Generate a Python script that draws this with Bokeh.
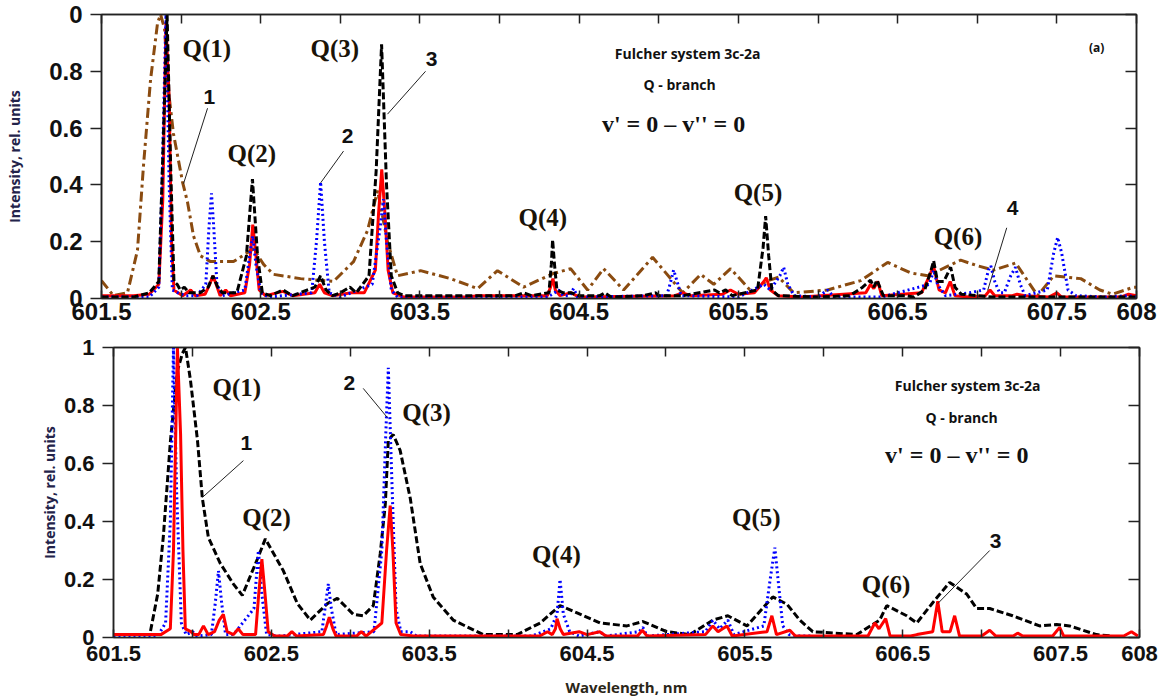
from bokeh.plotting import figure
from bokeh.models import Range1d, LinearAxis, FixedTicker
from bokeh.core.properties import value
from bokeh.embed import file_html
from bokeh.resources import INLINE

# ---------------- data (wavelength nm, relative intensity) ----------------
X_LABELED_TICKS = [601.5, 602.5, 603.5, 604.5, 605.5, 606.5, 607.5, 608.0]
X_LABELS = ["601.5", "602.5", "603.5", "604.5", "605.5", "606.5", "607.5", "608"]
X_OTHER_TICKS = [602.0, 603.0, 604.0, 605.0, 606.0, 607.0]
X_ALL_TICKS = [601.5, 602.0, 602.5, 603.0, 603.5, 604.0, 604.5, 605.0, 605.5,
               606.0, 606.5, 607.0, 607.5, 608.0]
Y_TICKS = [0.0, 0.2, 0.4, 0.6, 0.8, 1.0]
Y_LABELS_TOP = ["0", "0.2", "0.4", "0.6", "0.8", "0"]
Y_LABELS_BOT = ["0", "0.2", "0.4", "0.6", "0.8", "1"]

# top panel, curve 4 (dash-dot brown)
TOP_BROWN = [
    (601.50, 0.063), (601.575, 0.01), (601.663, 0.02), (601.726, 0.17),
    (601.764, 0.47), (601.808, 0.77), (601.852, 0.97), (601.871, 1.0),
    (601.896, 0.95), (601.921, 0.73), (601.952, 0.58), (602.009, 0.41),
    (602.040, 0.34), (602.078, 0.22), (602.122, 0.15), (602.185, 0.13),
    (602.329, 0.13), (602.455, 0.175), (602.518, 0.12), (602.580, 0.085),
    (602.750, 0.07), (602.957, 0.06), (603.083, 0.13), (603.171, 0.24),
    (603.234, 0.38), (603.296, 0.2), (603.359, 0.08), (603.504, 0.098),
    (603.692, 0.07), (603.862, 0.035), (603.987, 0.098), (604.151, 0.04),
    (604.333, 0.087), (604.446, 0.105), (604.553, 0.03), (604.653, 0.105),
    (604.779, 0.03), (604.961, 0.145), (605.150, 0.02), (605.263, 0.085),
    (605.345, 0.05), (605.451, 0.105), (605.589, 0.02), (605.671, 0.06),
    (605.753, 0.075), (605.847, 0.02), (606.060, 0.03), (606.268, 0.063),
    (606.437, 0.127), (606.582, 0.09), (606.689, 0.08), (606.896, 0.135),
    (607.003, 0.115), (607.103, 0.10), (607.241, 0.125), (607.379, 0.01),
    (607.480, 0.08), (607.650, 0.07), (607.770, 0.03), (607.850, 0.015),
    (607.982, 0.04), (608.0, 0.04),
]

# top panel, curve 3 (dashed black)
TOP_BLACK = [
    (601.50, 0.005), (601.70, 0.005), (601.80, 0.02), (601.86, 0.06),
    (601.885, 0.5), (601.912, 1.0), (601.935, 0.45), (601.955, 0.06),
    (601.975, 0.05), (601.995, 0.03), (602.02, 0.04), (602.05, 0.02),
    (602.08, 0.02), (602.12, 0.02), (602.17, 0.04), (602.20, 0.08),
    (602.23, 0.04), (602.26, 0.02), (602.30, 0.02), (602.35, 0.02),
    (602.41, 0.15), (602.448, 0.42), (602.48, 0.15), (602.51, 0.02),
    (602.56, 0.01), (602.64, 0.03), (602.70, 0.01), (602.84, 0.04),
    (602.876, 0.08), (602.91, 0.03), (602.95, 0.01), (603.00, 0.02),
    (603.06, 0.04), (603.10, 0.02), (603.18, 0.08), (603.225, 0.45),
    (603.259, 0.895), (603.29, 0.4), (603.32, 0.08), (603.36, 0.02),
    (603.40, 0.01), (604.00, 0.01), (604.10, 0.01), (604.15, 0.02),
    (604.20, 0.01), (604.31, 0.02), (604.325, 0.12), (604.333, 0.207),
    (604.345, 0.12), (604.36, 0.03), (604.40, 0.02), (604.45, 0.02),
    (604.50, 0.01), (604.63, 0.01), (604.66, 0.02), (604.70, 0.005),
    (604.90, 0.01), (604.98, 0.02), (605.00, 0.01), (605.15, 0.01),
    (605.35, 0.03), (605.38, 0.02), (605.42, 0.03), (605.46, 0.01),
    (605.62, 0.03), (605.655, 0.18), (605.671, 0.29), (605.69, 0.15),
    (605.71, 0.03), (605.75, 0.01), (606.00, 0.005), (606.20, 0.01),
    (606.28, 0.04), (606.33, 0.065), (606.35, 0.04), (606.37, 0.065),
    (606.41, 0.01), (606.55, 0.01), (606.60, 0.005), (606.67, 0.03),
    (606.71, 0.10), (606.726, 0.133), (606.75, 0.06), (606.79, 0.06),
    (606.833, 0.11), (606.86, 0.04), (606.90, 0.015), (607.00, 0.01),
    (607.10, 0.005), (608.0, 0.005),
]

# top panel, curve 2 (dotted blue)
TOP_BLUE = [
    (601.50, 0.005), (601.80, 0.005), (601.86, 0.04), (601.88, 0.4),
    (601.905, 1.0), (601.925, 0.4), (601.945, 0.03), (601.98, 0.02),
    (602.03, 0.01), (602.10, 0.01), (602.155, 0.05), (602.175, 0.25),
    (602.191, 0.37), (602.205, 0.25), (602.225, 0.05), (602.26, 0.01),
    (602.40, 0.03), (602.43, 0.15), (602.45, 0.22), (602.47, 0.12),
    (602.50, 0.02), (602.55, 0.005), (602.82, 0.02), (602.85, 0.2),
    (602.876, 0.41), (602.90, 0.2), (602.93, 0.02), (603.00, 0.005),
    (603.20, 0.05), (603.25, 0.25), (603.271, 0.35), (603.29, 0.2),
    (603.32, 0.03), (603.36, 0.005), (604.30, 0.005), (604.345, 0.02),
    (604.371, 0.03), (604.40, 0.01), (604.44, 0.01), (604.465, 0.035),
    (604.49, 0.005), (605.05, 0.01), (605.075, 0.06), (605.093, 0.10),
    (605.115, 0.06), (605.14, 0.01), (605.50, 0.005), (605.66, 0.05),
    (605.70, 0.03), (605.76, 0.08), (605.784, 0.11), (605.81, 0.05),
    (605.85, 0.01), (606.00, 0.005), (606.06, 0.03), (606.10, 0.005),
    (606.40, 0.005), (606.70, 0.05), (606.726, 0.10), (606.75, 0.05),
    (606.80, 0.01), (606.95, 0.02), (607.04, 0.03), (607.07, 0.10),
    (607.085, 0.115), (607.11, 0.06), (607.14, 0.02), (607.17, 0.02),
    (607.21, 0.08), (607.24, 0.11), (607.27, 0.05), (607.30, 0.01),
    (607.44, 0.03), (607.48, 0.16), (607.505, 0.215), (607.53, 0.16),
    (607.57, 0.03), (607.62, 0.01), (607.80, 0.005), (607.95, 0.01),
    (608.0, 0.005),
]

# top panel, curve 1 (solid red)
TOP_RED = [
    (601.50, 0.01), (601.70, 0.01), (601.80, 0.015), (601.86, 0.05),
    (601.885, 0.35), (601.905, 0.97), (601.925, 0.7), (601.94, 0.2),
    (601.955, 0.03), (601.98, 0.02), (602.01, 0.01), (602.06, 0.03),
    (602.09, 0.01), (602.15, 0.015), (602.18, 0.05), (602.20, 0.08),
    (602.22, 0.05), (602.245, 0.01), (602.28, 0.03), (602.31, 0.01),
    (602.40, 0.02), (602.43, 0.12), (602.45, 0.26), (602.47, 0.15),
    (602.49, 0.03), (602.53, 0.01), (602.64, 0.025), (602.70, 0.01),
    (602.84, 0.02), (602.87, 0.05), (602.90, 0.02), (602.95, 0.01),
    (603.07, 0.02), (603.15, 0.02), (603.22, 0.10), (603.24, 0.30),
    (603.26, 0.455), (603.28, 0.30), (603.30, 0.10), (603.33, 0.02),
    (603.40, 0.005), (603.80, 0.005), (603.86, 0.01), (604.30, 0.01),
    (604.32, 0.04), (604.335, 0.07), (604.35, 0.03), (604.38, 0.01),
    (604.45, 0.02), (604.50, 0.005), (605.10, 0.01), (605.15, 0.02),
    (605.20, 0.01), (605.40, 0.015), (605.45, 0.03), (605.50, 0.015),
    (605.60, 0.02), (605.66, 0.06), (605.675, 0.073), (605.70, 0.03),
    (605.75, 0.01), (605.90, 0.005), (606.30, 0.02), (606.33, 0.05),
    (606.35, 0.035), (606.375, 0.06), (606.40, 0.01), (606.65, 0.02),
    (606.70, 0.08), (606.725, 0.115), (606.76, 0.03), (606.80, 0.02),
    (606.83, 0.06), (606.86, 0.01), (606.95, 0.005), (607.05, 0.01),
    (607.08, 0.03), (607.11, 0.01), (607.22, 0.01), (607.25, 0.015),
    (607.30, 0.01), (607.45, 0.005), (607.50, 0.02), (607.53, 0.005),
    (607.90, 0.005), (607.95, 0.015), (608.0, 0.01),
]

# bottom panel, curve 1 (dashed black)
BOT_BLACK = [
    (601.50, 0.01), (601.73, 0.01), (601.78, 0.15), (601.816, 0.35),
    (601.861, 0.68), (601.905, 0.92), (601.937, 0.98), (601.956, 1.0),
    (601.987, 0.89), (602.032, 0.68), (602.063, 0.48), (602.101, 0.345),
    (602.177, 0.255), (602.259, 0.185), (602.316, 0.145), (602.411, 0.27),
    (602.462, 0.34), (602.576, 0.23), (602.665, 0.117), (602.747, 0.06),
    (602.855, 0.117), (602.918, 0.135), (603.019, 0.08), (603.082, 0.075),
    (603.146, 0.11), (603.190, 0.29), (603.222, 0.46), (603.241, 0.68),
    (603.272, 0.70), (603.316, 0.645), (603.380, 0.48), (603.443, 0.255),
    (603.525, 0.14), (603.652, 0.06), (603.842, 0.01), (604.057, 0.01),
    (604.203, 0.05), (604.329, 0.11), (604.437, 0.085), (604.582, 0.05),
    (604.753, 0.04), (604.854, 0.055), (605.006, 0.02), (605.152, 0.01),
    (605.297, 0.06), (605.392, 0.075), (605.513, 0.04), (605.677, 0.14),
    (605.766, 0.115), (605.848, 0.06), (605.930, 0.02), (606.209, 0.01),
    (606.354, 0.06), (606.399, 0.11), (606.525, 0.075), (606.589, 0.05),
    (606.690, 0.12), (606.797, 0.19), (606.905, 0.15), (606.968, 0.10),
    (607.051, 0.10), (607.196, 0.075), (607.367, 0.04), (607.475, 0.045),
    (607.557, 0.04), (607.728, 0.01), (607.829, 0.005),
]

# bottom panel, curve 2 (dotted blue)
BOT_BLUE = [
    (601.50, 0.005), (601.78, 0.005), (601.83, 0.05), (601.86, 0.4),
    (601.88, 1.0), (601.90, 0.5), (601.93, 0.05), (601.96, 0.01),
    (602.00, 0.02), (602.03, 0.005), (602.12, 0.01), (602.145, 0.12),
    (602.165, 0.23), (602.185, 0.12), (602.21, 0.01), (602.26, 0.01),
    (602.39, 0.1), (602.418, 0.3), (602.44, 0.15), (602.47, 0.01),
    (602.55, 0.005), (602.82, 0.02), (602.84, 0.1), (602.861, 0.185),
    (602.88, 0.1), (602.91, 0.01), (603.15, 0.02), (603.20, 0.3),
    (603.225, 0.7), (603.241, 0.93), (603.26, 0.6), (603.29, 0.1),
    (603.32, 0.02), (603.38, 0.02), (603.42, 0.005), (604.15, 0.005),
    (604.27, 0.03), (604.31, 0.08), (604.329, 0.2), (604.35, 0.08),
    (604.39, 0.02), (604.45, 0.005), (604.58, 0.02), (604.62, 0.005),
    (604.83, 0.02), (604.854, 0.035), (604.88, 0.005), (605.25, 0.02),
    (605.297, 0.06), (605.34, 0.03), (605.392, 0.06), (605.43, 0.01),
    (605.62, 0.04), (605.66, 0.2), (605.69, 0.31), (605.71, 0.2),
    (605.74, 0.04), (605.78, 0.01), (605.848, 0.005), (605.93, 0.005),
]

# bottom panel, curve 3 (solid red)
BOT_RED = [
    (601.50, 0.01), (601.80, 0.01), (601.86, 0.03), (601.88, 0.3),
    (601.905, 1.0), (601.925, 0.7), (601.94, 0.3), (601.955, 0.03),
    (601.99, 0.02), (602.01, 0.01), (602.04, 0.01), (602.07, 0.04),
    (602.10, 0.01), (602.14, 0.02), (602.17, 0.06), (602.196, 0.08),
    (602.22, 0.02), (602.26, 0.01), (602.29, 0.03), (602.32, 0.01),
    (602.40, 0.01), (602.42, 0.15), (602.44, 0.27), (602.46, 0.15),
    (602.48, 0.02), (602.52, 0.005), (602.60, 0.005), (602.63, 0.02),
    (602.66, 0.005), (602.83, 0.01), (602.85, 0.04), (602.867, 0.07),
    (602.89, 0.03), (602.91, 0.005), (603.04, 0.005), (603.07, 0.02),
    (603.10, 0.005), (603.20, 0.05), (603.23, 0.3), (603.253, 0.455),
    (603.27, 0.3), (603.29, 0.05), (603.32, 0.01), (603.40, 0.005),
    (604.20, 0.005), (604.25, 0.02), (604.28, 0.01), (604.30, 0.03),
    (604.31, 0.065), (604.33, 0.03), (604.35, 0.01), (604.45, 0.02),
    (604.50, 0.01), (604.58, 0.02), (604.62, 0.005), (604.82, 0.005),
    (604.85, 0.025), (604.88, 0.005), (605.25, 0.01), (605.297, 0.04),
    (605.33, 0.02), (605.386, 0.04), (605.42, 0.005), (605.64, 0.02),
    (605.671, 0.075), (605.70, 0.01), (605.785, 0.025), (605.82, 0.005),
    (606.28, 0.005), (606.323, 0.05), (606.35, 0.03), (606.392, 0.065),
    (606.42, 0.005), (606.55, 0.005), (606.59, 0.01), (606.69, 0.02),
    (606.722, 0.125), (606.75, 0.02), (606.80, 0.02), (606.829, 0.075),
    (606.86, 0.005), (607.00, 0.005), (607.051, 0.025), (607.09, 0.005),
    (607.20, 0.005), (607.228, 0.015), (607.26, 0.005), (607.45, 0.005),
    (607.494, 0.035), (607.52, 0.005), (607.90, 0.005), (607.949, 0.02),
    (607.99, 0.005),
]

# annotations
TOP_Q_TEXT = ["Q(1)", "Q(2)", "Q(3)", "Q(4)", "Q(5)", "Q(6)"]
TOP_Q_X = [602.009, 602.291, 602.813, 604.119, 605.470, 606.726]
TOP_Q_Y = [0.88, 0.509, 0.88, 0.284, 0.372, 0.218]
BOT_Q_TEXT = ["Q(1)", "Q(2)", "Q(3)", "Q(4)", "Q(5)", "Q(6)"]
BOT_Q_X = [602.127, 602.316, 603.329, 604.152, 605.418, 606.241]
BOT_Q_Y = [0.862, 0.414, 0.776, 0.286, 0.414, 0.183]

TOP_NUM_TEXT = ["1", "2", "3", "4"]
TOP_NUM_X = [602.178, 603.045, 603.573, 607.222]
TOP_NUM_Y = [0.709, 0.572, 0.842, 0.319]
TOP_LEAD = [(602.166, 0.670, 602.015, 0.404), (603.020, 0.519, 602.876, 0.407),
            (603.535, 0.800, 603.296, 0.649), (607.185, 0.249, 607.065, 0.028)]
BOT_NUM_TEXT = ["1", "2", "3"]
BOT_NUM_X = [602.342, 602.994, 607.089]
BOT_NUM_Y = [0.672, 0.879, 0.334]
BOT_LEAD = [(602.323, 0.610, 602.063, 0.483), (603.082, 0.859, 603.234, 0.759),
            (607.051, 0.300, 606.722, 0.117)]

INFO_TEXT = ["Fulcher system 3c-2a", "Q - branch", "v' = 0 \u2013 v'' = 0"]
TOP_INFO_X = [605.181, 605.131, 605.093]
TOP_INFO_Y = [0.863, 0.754, 0.614]
BOT_INFO_X = [606.911, 606.873, 606.842]
BOT_INFO_Y = [0.869, 0.759, 0.628]

TICK_FONT = "Liberation Sans"
SERIF = "Liberation Serif"
SANS = "Open Sans"
BROWN = "#8a4b10"
AX = "#222222"


def style_ticks(ax, tin, tout):
    ax.major_tick_in = tin
    ax.major_tick_out = tout
    ax.minor_tick_in = tin
    ax.minor_tick_out = tout
    ax.axis_line_color = AX
    ax.axis_line_width = 1.5
    ax.major_tick_line_color = AX
    ax.major_tick_line_width = 1.5
    ax.minor_tick_line_color = AX
    ax.minor_tick_line_width = 1.5


def make_panel(height, left, right, top, bottom, tick_size, x_standoff,
               ylabel_standoff, xlabel, y_labels):
    p = figure(width=1174, height=height, x_range=Range1d(601.5, 608),
               y_range=Range1d(0, 1), output_backend="svg",
               toolbar_location=None, min_border_left=left,
               min_border_right=right, min_border_top=top,
               min_border_bottom=bottom)
    p.xgrid.visible = False
    p.ygrid.visible = False
    p.outline_line_color = AX
    p.outline_line_width = 1.5
    p.background_fill_color = "white"
    p.border_fill_color = "white"

    xa = p.xaxis[0]
    xa.ticker = FixedTicker(ticks=X_LABELED_TICKS, minor_ticks=X_OTHER_TICKS)
    xa.major_label_overrides = {t: l for t, l in zip(X_LABELED_TICKS, X_LABELS)}
    style_ticks(xa, 8, 0)
    xa.major_label_standoff = x_standoff
    xa.major_label_text_font = TICK_FONT
    xa.major_label_text_font_style = "bold"
    xa.major_label_text_font_size = tick_size
    xa.major_label_text_color = "#111111"
    if xlabel:
        xa.axis_label = xlabel
        xa.axis_label_text_font = SANS
        xa.axis_label_text_font_style = "bold"
        xa.axis_label_text_font_size = "15px"
        xa.axis_label_text_color = "#2b2618"
        xa.axis_label_standoff = 13

    ya = p.yaxis[0]
    ya.ticker = FixedTicker(ticks=Y_TICKS, minor_ticks=[])
    ya.major_label_overrides = {t: l for t, l in zip(Y_TICKS, y_labels)}
    style_ticks(ya, 0, 11)
    ya.major_label_standoff = 8
    ya.major_label_text_font = TICK_FONT
    ya.major_label_text_font_style = "bold"
    ya.major_label_text_font_size = tick_size
    ya.major_label_text_color = "#111111"
    ya.axis_label = "Intensity, rel. units"
    ya.axis_label_text_font = SANS
    ya.axis_label_text_font_style = "bold"
    ya.axis_label_text_font_size = "14px"
    ya.axis_label_text_color = "#23234a"
    ya.axis_label_standoff = ylabel_standoff

    # label-free tick axes on top and right (ticks only, pointing inward)
    ax_top = LinearAxis(ticker=FixedTicker(ticks=[], minor_ticks=X_ALL_TICKS))
    style_ticks(ax_top, 9, 0)
    p.add_layout(ax_top, "above")
    ax_right = LinearAxis(ticker=FixedTicker(ticks=[], minor_ticks=Y_TICKS))
    style_ticks(ax_right, 11, 0)
    p.add_layout(ax_right, "right")
    return p


def xy(series):
    return [s[0] for s in series], [s[1] for s in series]


def add_texts(p, q_text, q_x, q_y, num_text, num_x, num_y, leads, info_x, info_y,
              q_size, num_size):
    p.text(x=q_x, y=q_y, text=q_text, text_font=value(SERIF),
           text_font_style="bold", text_font_size=q_size, text_color="#1a1308",
           text_align="left", text_baseline="middle")
    p.text(x=num_x, y=num_y, text=num_text, text_font=value(TICK_FONT),
           text_font_style="bold", text_font_size=num_size, text_color="#111111",
           text_align="center", text_baseline="middle")
    p.segment(x0=[l[0] for l in leads], y0=[l[1] for l in leads],
              x1=[l[2] for l in leads], y1=[l[3] for l in leads],
              line_color=AX, line_width=1)
    p.text(x=info_x[:2], y=info_y[:2], text=INFO_TEXT[:2], text_font=value(SANS),
           text_font_style="bold", text_font_size="14px", text_color="#111111",
           text_align="center", text_baseline="middle")
    p.text(x=info_x[2:], y=info_y[2:], text=INFO_TEXT[2:], text_font=value(SERIF),
           text_font_style="bold", text_font_size="24px", text_color="#111111",
           text_align="center", text_baseline="middle")


# ---------------- top panel ----------------
p1 = make_panel(330, 101, 38, 14, 32, "24px", 4, 22, None, Y_LABELS_TOP)
x, y = xy(TOP_BROWN)
p1.line(x, y, line_color=BROWN, line_width=3, line_dash="10 4 3 4")
x, y = xy(TOP_RED)
p1.line(x, y, line_color="#ff0000", line_width=3)
x, y = xy(TOP_BLUE)
p1.line(x, y, line_color="#0000ff", line_width=3, line_dash="2 3")
x, y = xy(TOP_BLACK)
p1.line(x, y, line_color="#000000", line_width=3, line_dash="7 3")
add_texts(p1, TOP_Q_TEXT, TOP_Q_X, TOP_Q_Y, TOP_NUM_TEXT, TOP_NUM_X, TOP_NUM_Y,
          TOP_LEAD, TOP_INFO_X, TOP_INFO_Y, "25px", "21px")
p1.text(x=[607.75], y=[0.884], text=["(a)"], text_font=value(SANS),
        text_font_style="bold", text_font_size="12px", text_color="#111111",
        text_align="center", text_baseline="middle")

# ---------------- bottom panel ----------------
p2 = make_panel(369, 113, 35, 17, 62, "22px", 8, 2, "Wavelength, nm", Y_LABELS_BOT)
x, y = xy(BOT_BLACK)
p2.line(x, y, line_color="#000000", line_width=3, line_dash="7 3")
x, y = xy(BOT_BLUE)
p2.line(x, y, line_color="#0000ff", line_width=3, line_dash="2 3")
x, y = xy(BOT_RED)
p2.line(x, y, line_color="#ff0000", line_width=3)
add_texts(p2, BOT_Q_TEXT, BOT_Q_X, BOT_Q_Y, BOT_NUM_TEXT, BOT_NUM_X, BOT_NUM_Y,
          BOT_LEAD, BOT_INFO_X, BOT_INFO_Y, "25px", "21px")

# two independent roots so that the two frames keep their own left edges
open("out.html", "w").write(file_html([p1, p2], INLINE))
